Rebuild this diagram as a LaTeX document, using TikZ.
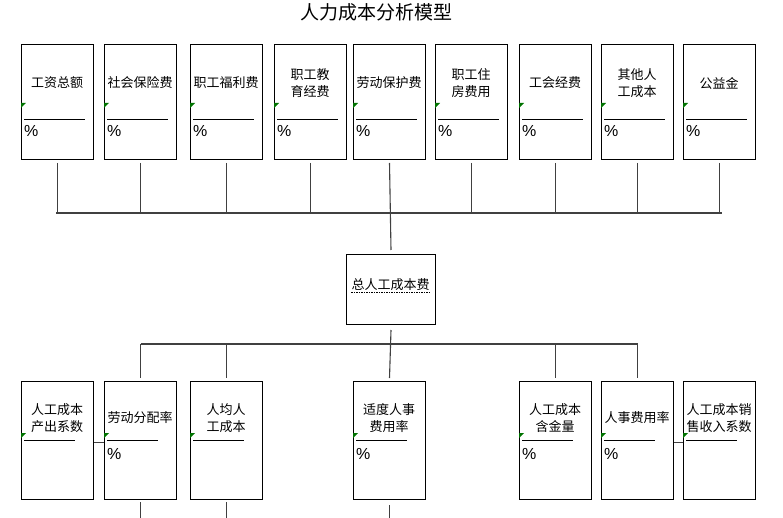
\documentclass[tikz,border=0pt]{standalone}
\usepackage{fontspec}
\newfontfamily\cjk{Noto Sans CJK SC}
\newfontfamily\latinf{Liberation Sans}
\tikzset{
  tbox/.style={draw=black,line width=1pt,minimum width=72pt,minimum height=115pt,inner sep=0pt,anchor=north west},
  bbox/.style={draw=black,line width=1pt,minimum width=72pt,minimum height=118pt,inner sep=0pt,anchor=north west},
  mbox/.style={draw=black,line width=1pt,minimum width=89pt,minimum height=70pt,inner sep=0pt,anchor=north west},
  txt/.style={font=\cjk\fontsize{13}{16.5}\selectfont,align=center,inner sep=0pt},
  pct/.style={font=\latinf\fontsize{16}{16}\selectfont,anchor=west,inner sep=0pt},
  inline/.style={draw=black,line width=0.9pt},
  flag/.style={fill=green!45!black},
  conn/.style={draw=black!75,line width=1.1pt},
}
\newcommand\mktopbox[3]{%
  \node[tbox] (#1) at (#2,44) {};
  \node[txt] (#1t) at (#2+36,83) {#3};
  \draw[inline] (#2+3,119) -- (#2+64,119);
  \fill[flag] (#2,103) -- (#2+5,103) -- (#2,108) -- cycle;
  \node[pct] (#1p) at (#2+3,131) {\%};
}
\newcommand\mkbotbox[3]{%
  \node[bbox] (#1) at (#2,381) {};
  \node[txt] (#1t) at (#2+36,418) {#3};
  \draw[inline] (#2+3,440) -- (#2+54,440);
  \fill[flag] (#2,433) -- (#2+5,433) -- (#2,438) -- cycle;
}
\newcommand\mkbotpct[2]{%
  \node[pct] (#1p) at (#2+3,454) {\%};
}
\begin{document}
\begin{tikzpicture}[x=1pt,y=-1pt]
\useasboundingbox (0,0) rectangle (783,518);
\node[font=\cjk\fontsize{19}{22}\selectfont,inner sep=0pt] (title) at (376,12) {人力成本分析模型};
% top row
\mktopbox{a1}{21}{工资总额}
\mktopbox{a2}{104}{社会保险费}
\mktopbox{a3}{190}{职工福利费}
\mktopbox{a4}{274}{职工教\\育经费}
\mktopbox{a5}{353}{劳动保护费}
\mktopbox{a6}{435}{职工住\\房费用}
\mktopbox{a7}{519}{工会经费}
\mktopbox{a8}{601}{其他人\\工成本}
\mktopbox{a9}{683}{公益金}
% middle
\node[mbox] (mid) at (346,254) {};
\node[txt] (midt) at (390.5,285) {总人工成本费};
\draw[line width=0.7pt,dash pattern=on 1.5pt off 1pt] ([yshift=-1.5pt]midt.south west) -- ([yshift=-1.5pt]midt.south east);
% bottom row
\mkbotbox{c1}{21}{人工成本\\产出系数}
\mkbotbox{c2}{104}{劳动分配率}
\mkbotpct{c2}{104}
\mkbotbox{c3}{190}{人均人\\工成本}
\mkbotbox{c4}{353}{适度人事\\费用率}
\mkbotpct{c4}{353}
\mkbotbox{c5}{519}{人工成本\\含金量}
\mkbotpct{c5}{519}
\mkbotbox{c6}{601}{人事费用率}
\mkbotpct{c6}{601}
\mkbotbox{c7}{683}{人工成本销\\售收入系数}
% upper bus
\coordinate (busL) at (56,213);
\coordinate (busR) at (722,213);
\draw[conn] (busL) -- (busR);
\foreach \n in {a1,a2,a3,a4,a6,a7,a8,a9}{
  \draw[conn] ([yshift=-3pt]\n.south) -- (\n.south |- busL);
}
\draw[conn] ([yshift=-3pt]a5.south) -- ([yshift=4pt]mid.north);
% lower bus
\coordinate (bus2) at (0,344);
\draw[conn] (c2.north |- bus2) -- (c6.north |- bus2);
\draw[conn] ([yshift=-5pt]mid.south) -- ([yshift=3pt]c4.north);
\foreach \n in {c2,c3,c5,c6}{
  \draw[conn] (\n.north |- bus2) -- ([yshift=3pt]\n.north);
}
% side links
\draw[conn] ([yshift=-2pt]c1.east) -- ([yshift=-2pt]c2.west);
\draw[conn] ([yshift=-2pt]c6.east) -- ([yshift=-2pt]c7.west);
% tails
\coordinate (bot) at (0,518);
\draw[conn] ([yshift=-2pt]c2.south) -- (c2.south |- bot);
\draw[conn] ([yshift=-2pt]c3.south) -- (c3.south |- bot);
\draw[conn] ([yshift=-5pt]c4.south) -- (c4.south |- bot);
\end{tikzpicture}
\end{document}
